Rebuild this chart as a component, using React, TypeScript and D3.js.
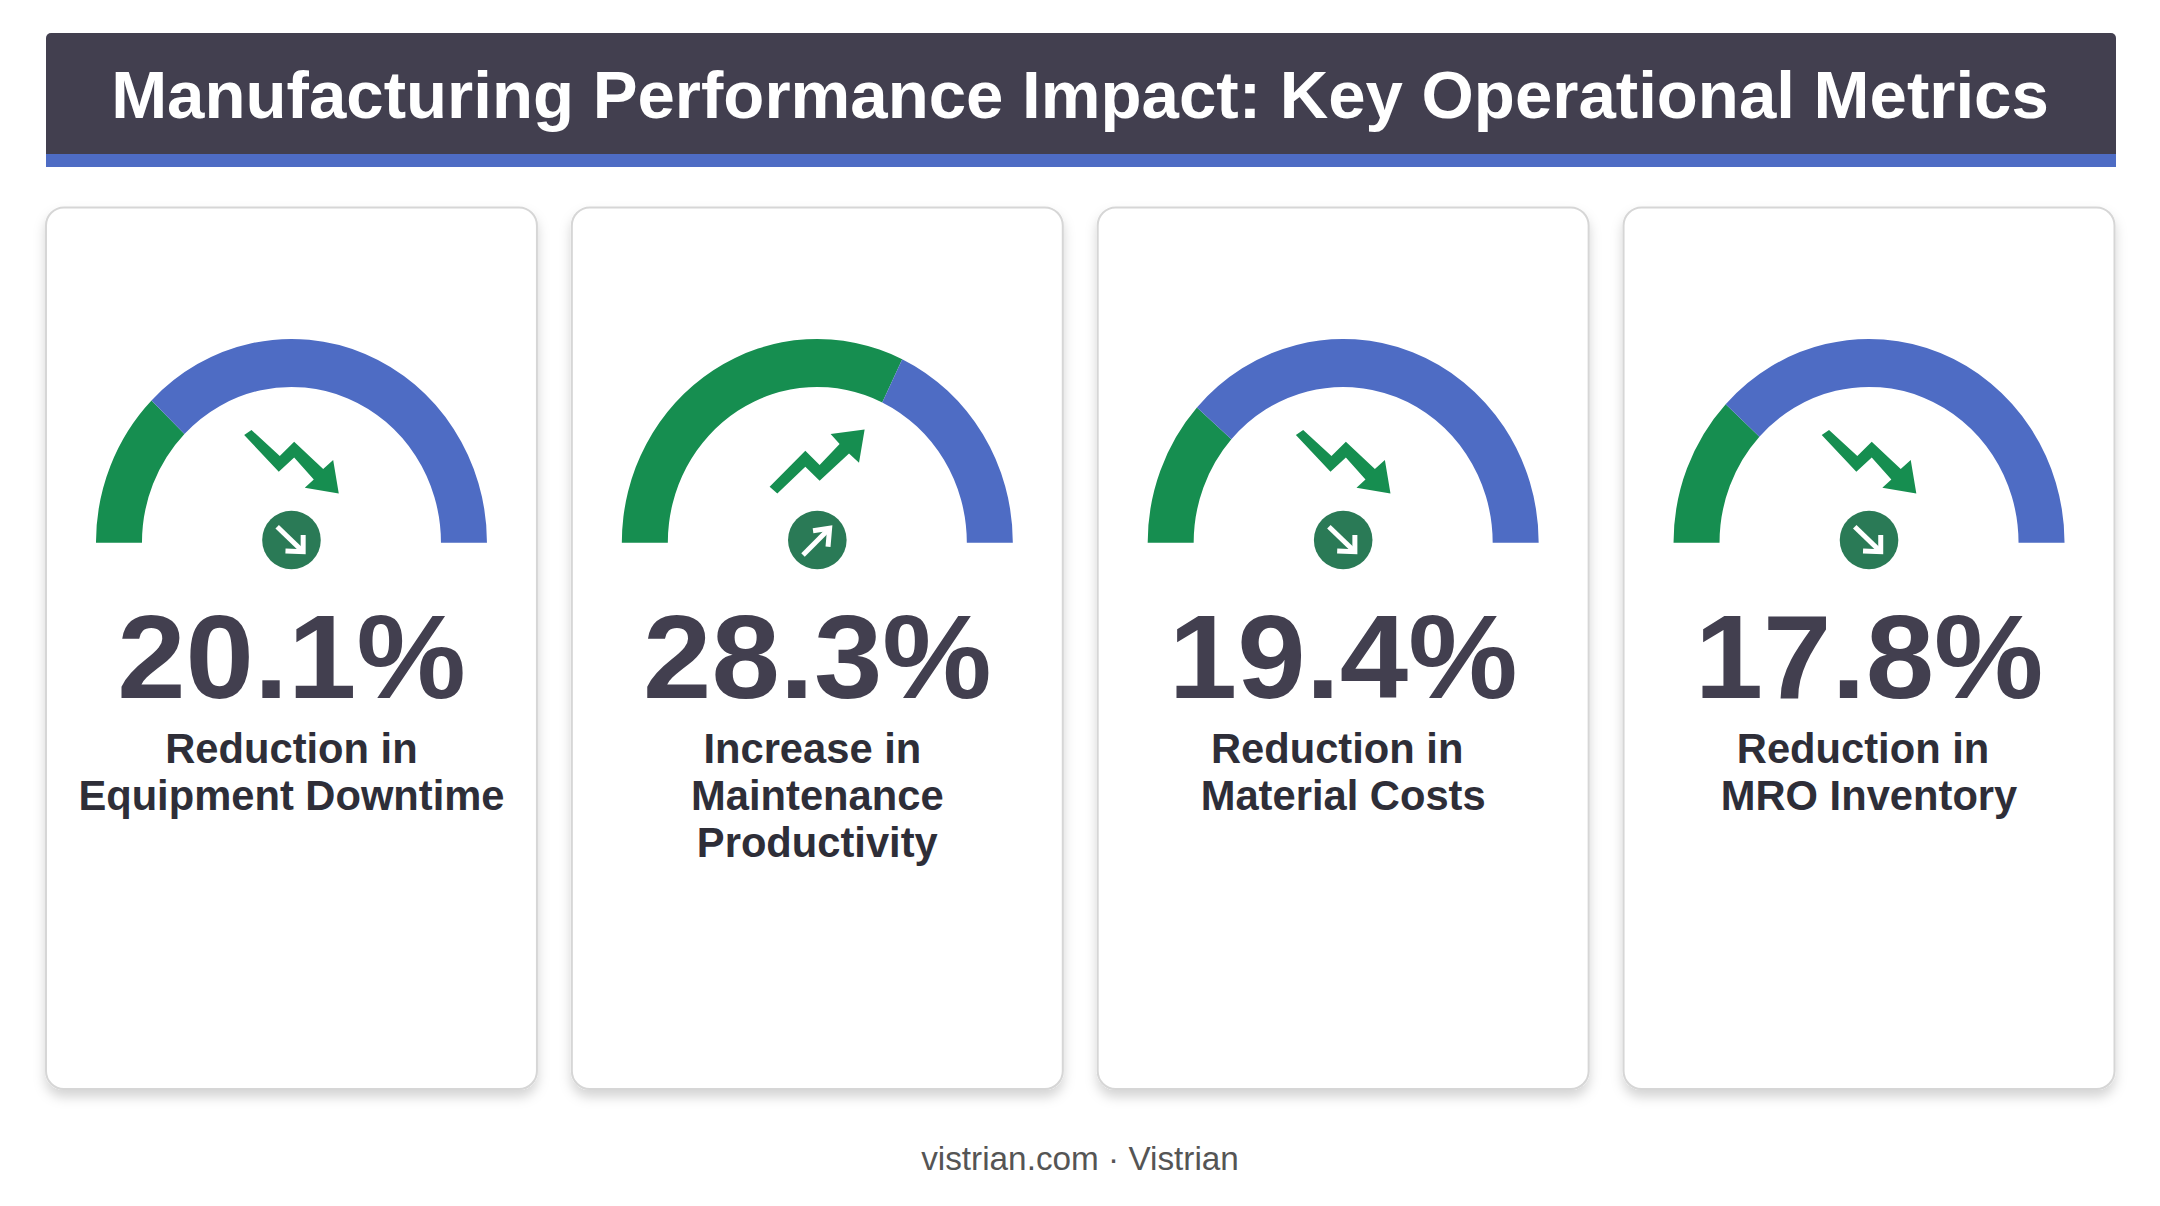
import React from "react";
import * as d3 from "d3";

const titleText = "Manufacturing Performance Impact: Key Operational Metrics";
const footerText = "vistrian.com · Vistrian";

const metricIds = ["downtime", "productivity", "material", "inventory"];
const metricValues = ["20.1%", "28.3%", "19.4%", "17.8%"];
const metricDirections = ["down", "up", "down", "down"];
// share of the half circle painted green
const gaugeFractions = [0.246, 0.643, 0.231, 0.238];
const metricLabels = [
    ["Reduction in", "Equipment Downtime"],
    ["Increase in", "Maintenance", "Productivity"],
    ["Reduction in", "Material Costs"],
    ["Reduction in", "MRO Inventory"],
];
const labelNudges = [
    [0, 0],
    [-5, 0, 0],
    [-6, 0],
    [-6, 0],
];

const WIDTH = 2160;
const HEIGHT = 1206;
const GREEN = "#168e50";
const BLUE = "#4e6cc4";
const DARK = "#423f4f";
const FONT = "'Liberation Sans', Arial, sans-serif";

// icon outlines, relative to the gauge centre
const trendIcons: Record<string, [number, number][]> = {
    down: [[-47.3, -107.7], [-40, -112.7], [-11.7, -86.7], [2.7, -101], [31.7, -73.7], [41.7, -82.7], [47.3, -49.3], [13.3, -55], [22.3, -63.3], [2.7, -85.3], [-12.7, -71]],
    up: [[-47.7, -56], [-40, -49.3], [-12, -76], [2.3, -62], [31.7, -89.3], [41.7, -80], [47.3, -113.3], [13.3, -108.7], [22.3, -98.7], [2.3, -77.7], [-12, -92]],
};
const badgeIcons: Record<string, [number, number][][]> = {
    down: [[[-14.3, -13.3], [11.7, 11.7]], [[11.7, -5], [11.7, 11.7], [-6, 11]]],
    up: [[[-14.3, 15], [12.3, -11.7]], [[-4.3, -9.3], [12.3, -11.7], [10.7, 6.7]]],
};

const outline = d3.line();

export default function App() {
    const x = d3.scaleBand<string>().domain(metricIds).range([46, 2114.5]).paddingInner(0.0664);
    const angle = d3.scaleLinear().domain([0, 1]).range([-Math.PI / 2, Math.PI / 2]);
    const arc = d3.arc().innerRadius(149.5).outerRadius(195.5);

    return (
        <svg
            width={WIDTH}
            height={HEIGHT}
            viewBox={`0 0 ${WIDTH} ${HEIGHT}`}
            style={{ position: "absolute", left: 0, top: 0, background: "#fff" }}
            fontFamily={FONT}
        >
            <defs>
                <filter id="cardShadow" x="-10%" y="-10%" width="120%" height="120%">
                    <feDropShadow dx="0" dy="7" stdDeviation="6" floodColor="#000" floodOpacity="0.17" />
                </filter>
            </defs>

            {/* Header */}
            <rect x={46} y={33} width={2070} height={134} rx={5} fill={DARK} />
            <rect x={46} y={154} width={2070} height={13} fill={BLUE} />
            <text x={1080} y={118} textAnchor="middle" fontSize={67.2} fontWeight="bold" fill="#fff">
                {titleText}
            </text>

            {metricIds.map((id, i) => {
                const left = x(id)!;
                const cx = left + x.bandwidth() / 2;
                const split = angle(gaugeFractions[i]);
                const dir = metricDirections[i];
                return (
                    <g key={id}>
                        <rect
                            x={left}
                            y={207.5}
                            width={x.bandwidth()}
                            height={881.5}
                            rx={18}
                            fill="#fff"
                            stroke="#d6d6d6"
                            strokeWidth={2}
                            filter="url(#cardShadow)"
                        />
                        <g transform={`translate(${cx},542.7)`}>
                            <g transform="scale(1,1.042)">
                                <path d={arc({ startAngle: angle(0), endAngle: split } as any)!} fill={GREEN} />
                                <path d={arc({ startAngle: split, endAngle: angle(1) } as any)!} fill={BLUE} />
                            </g>
                            <path d={outline(trendIcons[dir]) + "Z"} fill={GREEN} />
                            <g transform="translate(0,-2.7)">
                                <circle r={29.3} fill="#2a7a56" />
                                {badgeIcons[dir].map((pts, k) => (
                                    <path key={k} d={outline(pts)!} fill="none" stroke="#fff" strokeWidth={5} strokeLinejoin="miter" />
                                ))}
                            </g>
                        </g>
                        {/* the big numbers are a little wider than the plain font */}
                        <text
                            transform={`translate(${cx},698) scale(1.042,1)`}
                            textAnchor="middle"
                            fontSize={118}
                            fontWeight="bold"
                            fill={DARK}
                        >
                            {metricValues[i]}
                        </text>
                        {metricLabels[i].map((line, k) => (
                            <text
                                key={k}
                                x={cx + labelNudges[i][k]}
                                y={763 + k * 46.8}
                                textAnchor="middle"
                                fontSize={41.7}
                                fontWeight="bold"
                                fill="#2e2e38"
                            >
                                {line}
                            </text>
                        ))}
                    </g>
                );
            })}

            <text x={1080} y={1170} textAnchor="middle" fontSize={33.3} fill="#555">
                {footerText}
            </text>
        </svg>
    );
}
